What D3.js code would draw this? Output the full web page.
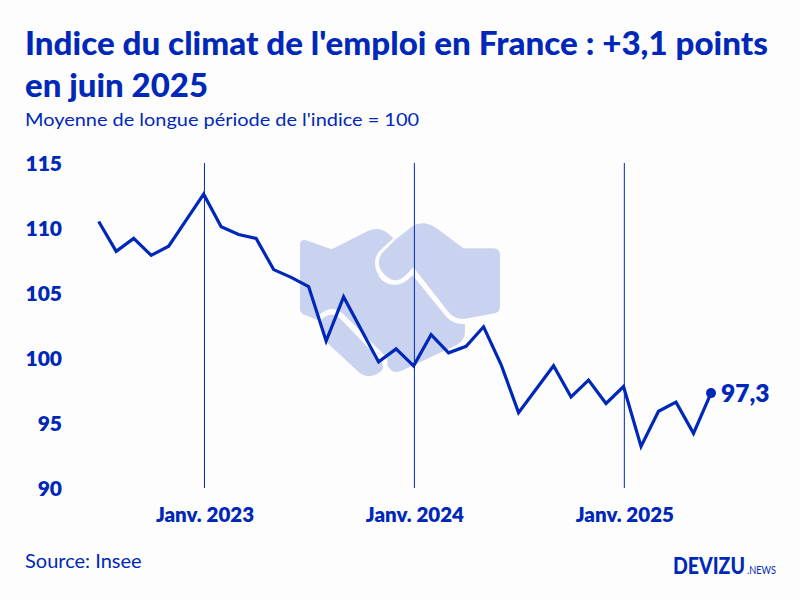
<!DOCTYPE html>
<html>
<head>
<meta charset="utf-8">
<script src="https://cdn.jsdelivr.net/npm/d3@7"></script>
<style>
  html, body { margin: 0; padding: 0; background: #fdfdfd; }
  svg { display: block; }
  text { font-family: Lato, sans-serif; fill: #0028b8; }
</style>
</head>
<body>
<svg id="chart" width="800" height="600"></svg>
<script>
const BLUE = "#0028b8";

const months = [
  "2022-07", "2022-08", "2022-09", "2022-10", "2022-11", "2022-12",
  "2023-01", "2023-02", "2023-03", "2023-04", "2023-05", "2023-06",
  "2023-07", "2023-08", "2023-09", "2023-10", "2023-11", "2023-12",
  "2024-01", "2024-02", "2024-03", "2024-04", "2024-05", "2024-06",
  "2024-07", "2024-08", "2024-09", "2024-10", "2024-11", "2024-12",
  "2025-01", "2025-02", "2025-03", "2025-04", "2025-05", "2025-06"
];
const values = [
  110.5, 108.2, 109.2, 107.9, 108.6, 110.6,
  112.6, 110.1, 109.5, 109.2, 106.8, 106.2,
  105.5, 101.3, 104.7, 102.2, 99.7, 100.7,
  99.4, 101.8, 100.4, 100.9, 102.4, 99.5,
  95.8, 97.6, 99.4, 97.0, 98.3, 96.5,
  97.8, 93.2, 95.9, 96.6, 94.2, 97.3
];
const yTicks = [90, 95, 100, 105, 110, 115];
const januaries = ["2023-01", "2024-01", "2025-01"];
const januaryLabels = ["Janv. 2023", "Janv. 2024", "Janv. 2025"];

const svg = d3.select("#chart");

const x = d3.scalePoint().domain(months).range([98.7, 711]);
const y = d3.scaleLinear().domain([90, 115]).range([488, 163]);
const RULE_SHIFT = 0.8;

// squeeze a text horizontally to a given width, so its box really is that wide
const fitWidth = (sel, left, baseline, width) => {
  const natural = sel.node().getComputedTextLength();
  sel.attr("transform", `translate(${left},${baseline}) scale(${width / natural},1)`);
};

// title block
const title = svg.append("g");
title.append("text").attr("x", 25).attr("y", 55)
  .attr("font-size", 33).attr("font-weight", 900)
  .attr("textLength", 743).attr("lengthAdjust", "spacingAndGlyphs")
  .text("Indice du climat de l'emploi en France : +3,1 points");
title.append("text").attr("x", 25).attr("y", 97)
  .attr("font-size", 33).attr("font-weight", 900)
  .attr("textLength", 183).attr("lengthAdjust", "spacingAndGlyphs")
  .text("en juin 2025");
title.append("text").attr("x", 25).attr("y", 126)
  .attr("font-size", 18).attr("font-weight", 400)
  .attr("textLength", 394).attr("lengthAdjust", "spacingAndGlyphs")
  .text("Moyenne de longue période de l'indice = 100");

// handshake icon, traced in 3x units
const icon = svg.append("g")
  .attr("transform", "translate(280,210) scale(0.3333)")
  .attr("fill", "#c9d3f0");
icon.append("path").attr("d", "M60 105 Q60 85 82 92 L155 118 L265 62 Q305 45 340 85 L296 125 Q270 165 305 210 Q345 240 385 208 L398 196 L500 322 Q520 343 555 343 L555 365 Q555 390 530 405 L365 482 Q335 495 322 465 L322 445 L190 312 Q155 280 118 315 L113 330 L75 315 Q60 310 60 295 Z");
icon.append("path").attr("d", "M125 328 Q155 300 185 330 L300 450 Q320 475 295 490 Q265 510 235 485 L135 392 Z");
icon.append("path").attr("d", "M345 90 L395 50 Q430 28 470 55 L550 115 L640 115 Q660 115 660 135 L660 290 Q660 305 645 310 L555 326 Q525 330 505 305 L400 172 L375 198 Q345 225 315 195 Q280 160 310 125 Z");

// january rules
svg.append("g").selectAll("line")
  .data(januaries)
  .join("line")
  .attr("x1", d => x(d) + RULE_SHIFT).attr("x2", d => x(d) + RULE_SHIFT)
  .attr("y1", y(115)).attr("y2", y(90))
  .attr("stroke", BLUE).attr("stroke-width", 1);

// axes
const yAxis = svg.append("g")
  .attr("transform", "translate(62,0)")
  .call(d3.axisLeft(y).tickValues(yTicks).tickSize(0).tickPadding(0));
yAxis.select(".domain").remove();
yAxis.selectAll("text")
  .attr("dy", "0.38em")
  .attr("font-size", 21).attr("font-weight", 800)
  .attr("font-family", "Lato, sans-serif").attr("fill", BLUE);

const xAxis = svg.append("g")
  .attr("transform", `translate(${RULE_SHIFT},515)`)
  .call(d3.axisBottom(x).tickValues(januaries).tickSize(0).tickPadding(0)
    .tickFormat((d, i) => januaryLabels[i]));
xAxis.select(".domain").remove();
xAxis.selectAll("text")
  .attr("dy", "0.35em").attr("y", 0)
  .attr("font-size", 20.5).attr("font-weight", 800)
  .attr("font-family", "Lato, sans-serif").attr("fill", BLUE);

// series
const line = d3.line().x((d, i) => x(months[i])).y(d => y(d));
svg.append("path")
  .attr("d", line(values))
  .attr("fill", "none")
  .attr("stroke", BLUE).attr("stroke-width", 3.2)
  .attr("stroke-linejoin", "miter");

const last = values.length - 1;
svg.append("circle")
  .attr("cx", x(months[last])).attr("cy", y(values[last])).attr("r", 5)
  .attr("fill", BLUE);
svg.append("text")
  .attr("x", x(months[last]) + 10).attr("y", y(values[last])).attr("dy", "0.35em")
  .attr("font-size", 24.5).attr("font-weight", 800)
  .text(String(values[last]).replace(".", ","));

// footer
svg.append("text").attr("x", 25).attr("y", 568)
  .attr("font-size", 20).attr("font-weight", 400)
  .text("Source: Insee");
svg.append("text")
  .attr("font-size", 23).attr("font-weight", 900)
  .text("DEVIZU")
  .call(fitWidth, 673, 574, 72);
svg.append("text")
  .attr("font-size", 12).attr("font-weight", 400)
  .text(".NEWS")
  .call(fitWidth, 747, 574, 29);
</script>
</body>
</html>
